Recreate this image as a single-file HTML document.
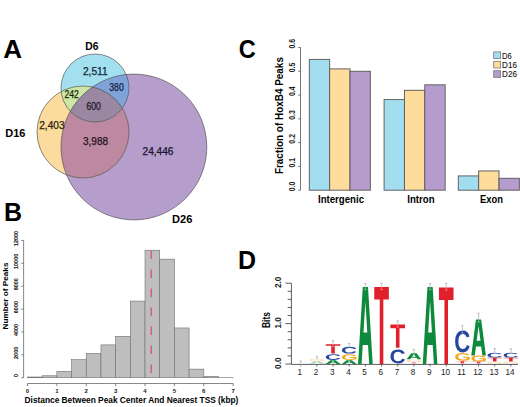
<!DOCTYPE html>
<html><head><meta charset="utf-8"><style>
html,body{margin:0;padding:0;background:#fff;width:520px;height:407px;overflow:hidden}
svg{display:block}
</style></head><body>
<svg width="520" height="407" viewBox="0 0 520 407">
<defs>
<clipPath id="k6"><circle cx="95" cy="88" r="34"/></clipPath>
<clipPath id="k16"><circle cx="83" cy="132" r="46"/></clipPath>
<clipPath id="k26"><circle cx="133.9" cy="147.0" r="72.9"/></clipPath>
</defs>
<circle cx="133.9" cy="147.0" r="72.9" fill="#b59dcc" />
<circle cx="83" cy="132" r="46" fill="#fbdc9e" />
<g clip-path="url(#k26)"><circle cx="83" cy="132" r="46" fill="#bc89a0" /></g>
<circle cx="95" cy="88" r="34" fill="#a3e0ef" />
<g clip-path="url(#k16)"><circle cx="95" cy="88" r="34" fill="#cde6a6" /></g>
<g clip-path="url(#k26)"><circle cx="95" cy="88" r="34" fill="#7fa3d8" /></g>
<g clip-path="url(#k26)"><g clip-path="url(#k16)"><circle cx="95" cy="88" r="34" fill="#9a88a2" /></g></g>
<circle cx="133.9" cy="147.0" r="72.9" fill="none" stroke="#505050" stroke-width="0.9" stroke-opacity="0.75"/>
<circle cx="83" cy="132" r="46" fill="none" stroke="#505050" stroke-width="0.9" stroke-opacity="0.75"/>
<circle cx="95" cy="88" r="34" fill="none" stroke="#505050" stroke-width="0.9" stroke-opacity="0.75"/>
<text x="85.2" y="49.6" text-anchor="start" textLength="13.2" lengthAdjust="spacingAndGlyphs" style="font-family:'Liberation Sans',sans-serif;font-weight:bold;font-size:11px" fill="#000" >D6</text>
<text x="5.3" y="136.7" text-anchor="start" textLength="20.2" lengthAdjust="spacingAndGlyphs" style="font-family:'Liberation Sans',sans-serif;font-weight:bold;font-size:11.2px" fill="#000" >D16</text>
<text x="172.0" y="222.8" text-anchor="start" textLength="20.3" lengthAdjust="spacingAndGlyphs" style="font-family:'Liberation Sans',sans-serif;font-weight:bold;font-size:11.2px" fill="#000" >D26</text>
<text x="82.9" y="74.6" text-anchor="start" textLength="24.8" lengthAdjust="spacingAndGlyphs" style="font-family:'Liberation Sans',sans-serif;font-weight:normal;font-size:10.0px" fill="#10283a" stroke="#10283a" stroke-width="0.25">2,511</text>
<text x="109.3" y="90.9" text-anchor="start" textLength="14.4" lengthAdjust="spacingAndGlyphs" style="font-family:'Liberation Sans',sans-serif;font-weight:normal;font-size:10.0px" fill="#101c3a" stroke="#101c3a" stroke-width="0.25">380</text>
<text x="64.5" y="98.3" text-anchor="start" textLength="14.4" lengthAdjust="spacingAndGlyphs" style="font-family:'Liberation Sans',sans-serif;font-weight:normal;font-size:10.0px" fill="#1a260c" stroke="#1a260c" stroke-width="0.25">242</text>
<text x="86.4" y="110.0" text-anchor="start" textLength="14.4" lengthAdjust="spacingAndGlyphs" style="font-family:'Liberation Sans',sans-serif;font-weight:normal;font-size:10.0px" fill="#1c1426" stroke="#1c1426" stroke-width="0.25">600</text>
<text x="39.2" y="129.3" text-anchor="start" textLength="25.4" lengthAdjust="spacingAndGlyphs" style="font-family:'Liberation Sans',sans-serif;font-weight:normal;font-size:10.0px" fill="#261c0c" stroke="#261c0c" stroke-width="0.25">2,403</text>
<text x="83.0" y="145.0" text-anchor="start" textLength="25.0" lengthAdjust="spacingAndGlyphs" style="font-family:'Liberation Sans',sans-serif;font-weight:normal;font-size:10.0px" fill="#26101c" stroke="#26101c" stroke-width="0.25">3,988</text>
<text x="142.5" y="155.2" text-anchor="start" textLength="31.0" lengthAdjust="spacingAndGlyphs" style="font-family:'Liberation Sans',sans-serif;font-weight:normal;font-size:10.0px" fill="#1a102c" stroke="#1a102c" stroke-width="0.25">24,446</text>
<rect x="27.50" y="377.01" width="14.69" height="0.69" fill="#bebebe" stroke="#6e6e6e" stroke-width="0.6"/>
<rect x="42.19" y="375.76" width="14.69" height="1.94" fill="#bebebe" stroke="#6e6e6e" stroke-width="0.6"/>
<rect x="56.88" y="371.30" width="14.69" height="6.40" fill="#bebebe" stroke="#6e6e6e" stroke-width="0.6"/>
<rect x="71.57" y="359.64" width="14.69" height="18.06" fill="#bebebe" stroke="#6e6e6e" stroke-width="0.6"/>
<rect x="86.26" y="353.46" width="14.69" height="24.24" fill="#bebebe" stroke="#6e6e6e" stroke-width="0.6"/>
<rect x="100.95" y="344.89" width="14.69" height="32.81" fill="#bebebe" stroke="#6e6e6e" stroke-width="0.6"/>
<rect x="115.64" y="336.31" width="14.69" height="41.39" fill="#bebebe" stroke="#6e6e6e" stroke-width="0.6"/>
<rect x="130.33" y="301.10" width="14.69" height="76.60" fill="#bebebe" stroke="#6e6e6e" stroke-width="0.6"/>
<rect x="145.02" y="250.22" width="14.69" height="127.48" fill="#bebebe" stroke="#6e6e6e" stroke-width="0.6"/>
<rect x="159.71" y="259.14" width="14.69" height="118.56" fill="#bebebe" stroke="#6e6e6e" stroke-width="0.6"/>
<rect x="174.40" y="327.96" width="14.69" height="49.74" fill="#bebebe" stroke="#6e6e6e" stroke-width="0.6"/>
<rect x="189.09" y="369.12" width="14.69" height="8.57" fill="#bebebe" stroke="#6e6e6e" stroke-width="0.6"/>
<rect x="203.78" y="376.44" width="14.69" height="1.26" fill="#bebebe" stroke="#6e6e6e" stroke-width="0.6"/>
<rect x="218.47" y="377.59" width="14.69" height="0.11" fill="#bebebe" stroke="#6e6e6e" stroke-width="0.6"/>
<line x1="151.20" y1="250.6" x2="151.20" y2="377.7" stroke="#d9566e" stroke-width="1.3" stroke-dasharray="8.5 10.5"/>
<g stroke="#555" stroke-width="0.7" fill="none">
<line x1="23.6" y1="240.5" x2="23.6" y2="377.7"/>
<line x1="21.2" y1="377.70" x2="23.6" y2="377.70"/>
<line x1="21.2" y1="354.83" x2="23.6" y2="354.83"/>
<line x1="21.2" y1="331.97" x2="23.6" y2="331.97"/>
<line x1="21.2" y1="309.10" x2="23.6" y2="309.10"/>
<line x1="21.2" y1="286.23" x2="23.6" y2="286.23"/>
<line x1="21.2" y1="263.37" x2="23.6" y2="263.37"/>
<line x1="21.2" y1="240.50" x2="23.6" y2="240.50"/>
<line x1="27.5" y1="383.5" x2="233.16" y2="383.5"/>
<line x1="27.50" y1="383.5" x2="27.50" y2="386.2"/>
<line x1="56.88" y1="383.5" x2="56.88" y2="386.2"/>
<line x1="86.26" y1="383.5" x2="86.26" y2="386.2"/>
<line x1="115.64" y1="383.5" x2="115.64" y2="386.2"/>
<line x1="145.02" y1="383.5" x2="145.02" y2="386.2"/>
<line x1="174.40" y1="383.5" x2="174.40" y2="386.2"/>
<line x1="203.78" y1="383.5" x2="203.78" y2="386.2"/>
<line x1="233.16" y1="383.5" x2="233.16" y2="386.2"/>
</g>
<text transform="translate(18.2 375.70) rotate(-90)" text-anchor="middle" style="font-family:'Liberation Sans',sans-serif;font-weight:bold;font-size:6px" fill="#1a1a1a" stroke="#1a1a1a" stroke-width="0.1">0</text>
<text transform="translate(18.2 352.83) rotate(-90)" text-anchor="middle" style="font-family:'Liberation Sans',sans-serif;font-weight:bold;font-size:6px" fill="#1a1a1a" stroke="#1a1a1a" stroke-width="0.1" textLength="12.2" lengthAdjust=spacingAndGlyphs>2000</text>
<text transform="translate(18.2 329.97) rotate(-90)" text-anchor="middle" style="font-family:'Liberation Sans',sans-serif;font-weight:bold;font-size:6px" fill="#1a1a1a" stroke="#1a1a1a" stroke-width="0.1" textLength="12.2" lengthAdjust=spacingAndGlyphs>4000</text>
<text transform="translate(18.2 307.10) rotate(-90)" text-anchor="middle" style="font-family:'Liberation Sans',sans-serif;font-weight:bold;font-size:6px" fill="#1a1a1a" stroke="#1a1a1a" stroke-width="0.1" textLength="12.2" lengthAdjust=spacingAndGlyphs>6000</text>
<text transform="translate(18.2 284.23) rotate(-90)" text-anchor="middle" style="font-family:'Liberation Sans',sans-serif;font-weight:bold;font-size:6px" fill="#1a1a1a" stroke="#1a1a1a" stroke-width="0.1" textLength="12.2" lengthAdjust=spacingAndGlyphs>8000</text>
<text transform="translate(18.2 261.37) rotate(-90)" text-anchor="middle" style="font-family:'Liberation Sans',sans-serif;font-weight:bold;font-size:6px" fill="#1a1a1a" stroke="#1a1a1a" stroke-width="0.1" textLength="15.2" lengthAdjust=spacingAndGlyphs>10000</text>
<text transform="translate(18.2 238.50) rotate(-90)" text-anchor="middle" style="font-family:'Liberation Sans',sans-serif;font-weight:bold;font-size:6px" fill="#1a1a1a" stroke="#1a1a1a" stroke-width="0.1" textLength="15.2" lengthAdjust=spacingAndGlyphs>12000</text>
<text x="27.50" y="392.7" text-anchor="middle" style="font-family:'Liberation Sans',sans-serif;font-weight:bold;font-size:6px" fill="#222" >0</text>
<text x="56.88" y="392.7" text-anchor="middle" style="font-family:'Liberation Sans',sans-serif;font-weight:bold;font-size:6px" fill="#222" >1</text>
<text x="86.26" y="392.7" text-anchor="middle" style="font-family:'Liberation Sans',sans-serif;font-weight:bold;font-size:6px" fill="#222" >2</text>
<text x="115.64" y="392.7" text-anchor="middle" style="font-family:'Liberation Sans',sans-serif;font-weight:bold;font-size:6px" fill="#222" >3</text>
<text x="145.02" y="392.7" text-anchor="middle" style="font-family:'Liberation Sans',sans-serif;font-weight:bold;font-size:6px" fill="#222" >4</text>
<text x="174.40" y="392.7" text-anchor="middle" style="font-family:'Liberation Sans',sans-serif;font-weight:bold;font-size:6px" fill="#222" >5</text>
<text x="203.78" y="392.7" text-anchor="middle" style="font-family:'Liberation Sans',sans-serif;font-weight:bold;font-size:6px" fill="#222" >6</text>
<text x="233.16" y="392.7" text-anchor="middle" style="font-family:'Liberation Sans',sans-serif;font-weight:bold;font-size:6px" fill="#222" >7</text>
<text transform="translate(8.3 296.0) rotate(-90)" text-anchor="middle" textLength="67" lengthAdjust="spacingAndGlyphs" style="font-family:'Liberation Sans',sans-serif;font-weight:bold;font-size:7.8px">Number of Peaks</text>
<text x="24.6" y="403.1" text-anchor="start" textLength="213.8" lengthAdjust="spacingAndGlyphs" style="font-family:'Liberation Sans',sans-serif;font-weight:bold;font-size:8.6px" fill="#000" >Distance Between Peak Center And Nearest TSS (kbp)</text>
<rect x="309.30" y="59.39" width="20.35" height="130.81" fill="#a3def0" stroke="#5c5c5c" stroke-width="0.95"/>
<rect x="329.65" y="68.91" width="20.35" height="121.29" fill="#fddc9c" stroke="#5c5c5c" stroke-width="0.95"/>
<rect x="350.00" y="71.28" width="20.35" height="118.92" fill="#b59ccc" stroke="#5c5c5c" stroke-width="0.95"/>
<rect x="384.10" y="99.59" width="20.35" height="90.61" fill="#a3def0" stroke="#5c5c5c" stroke-width="0.95"/>
<rect x="404.45" y="90.31" width="20.35" height="99.89" fill="#fddc9c" stroke="#5c5c5c" stroke-width="0.95"/>
<rect x="424.80" y="84.84" width="20.35" height="105.36" fill="#b59ccc" stroke="#5c5c5c" stroke-width="0.95"/>
<rect x="458.30" y="175.93" width="20.35" height="14.27" fill="#a3def0" stroke="#5c5c5c" stroke-width="0.95"/>
<rect x="478.65" y="170.94" width="20.35" height="19.26" fill="#fddc9c" stroke="#5c5c5c" stroke-width="0.95"/>
<rect x="499.00" y="178.31" width="20.35" height="11.89" fill="#b59ccc" stroke="#5c5c5c" stroke-width="0.95"/>
<g stroke="#555" stroke-width="0.8" fill="none">
<line x1="300.5" y1="47.5" x2="300.5" y2="190.2"/>
<line x1="298.2" y1="190.20" x2="300.5" y2="190.20"/>
<line x1="298.2" y1="166.42" x2="300.5" y2="166.42"/>
<line x1="298.2" y1="142.63" x2="300.5" y2="142.63"/>
<line x1="298.2" y1="118.85" x2="300.5" y2="118.85"/>
<line x1="298.2" y1="95.07" x2="300.5" y2="95.07"/>
<line x1="298.2" y1="71.28" x2="300.5" y2="71.28"/>
<line x1="298.2" y1="47.50" x2="300.5" y2="47.50"/>
</g>
<text transform="translate(295.4 186.40) rotate(-90)" text-anchor="middle" textLength="9.6" lengthAdjust="spacingAndGlyphs" style="font-family:'Liberation Sans',sans-serif;font-weight:bold;font-size:8.2px" fill="#1a1a1a">0.0</text>
<text transform="translate(295.4 162.62) rotate(-90)" text-anchor="middle" textLength="9.6" lengthAdjust="spacingAndGlyphs" style="font-family:'Liberation Sans',sans-serif;font-weight:bold;font-size:8.2px" fill="#1a1a1a">0.1</text>
<text transform="translate(295.4 138.83) rotate(-90)" text-anchor="middle" textLength="9.6" lengthAdjust="spacingAndGlyphs" style="font-family:'Liberation Sans',sans-serif;font-weight:bold;font-size:8.2px" fill="#1a1a1a">0.2</text>
<text transform="translate(295.4 115.05) rotate(-90)" text-anchor="middle" textLength="9.6" lengthAdjust="spacingAndGlyphs" style="font-family:'Liberation Sans',sans-serif;font-weight:bold;font-size:8.2px" fill="#1a1a1a">0.3</text>
<text transform="translate(295.4 91.27) rotate(-90)" text-anchor="middle" textLength="9.6" lengthAdjust="spacingAndGlyphs" style="font-family:'Liberation Sans',sans-serif;font-weight:bold;font-size:8.2px" fill="#1a1a1a">0.4</text>
<text transform="translate(295.4 67.48) rotate(-90)" text-anchor="middle" textLength="9.6" lengthAdjust="spacingAndGlyphs" style="font-family:'Liberation Sans',sans-serif;font-weight:bold;font-size:8.2px" fill="#1a1a1a">0.5</text>
<text transform="translate(295.4 43.70) rotate(-90)" text-anchor="middle" textLength="9.6" lengthAdjust="spacingAndGlyphs" style="font-family:'Liberation Sans',sans-serif;font-weight:bold;font-size:8.2px" fill="#1a1a1a">0.6</text>
<text transform="translate(283.4 115.6) rotate(-90)" text-anchor="middle" textLength="117" lengthAdjust="spacingAndGlyphs" style="font-family:'Liberation Sans',sans-serif;font-weight:bold;font-size:10px">Fraction of HoxB4 Peaks</text>
<text x="341.0" y="202.6" text-anchor="middle" textLength="46" lengthAdjust="spacingAndGlyphs" style="font-family:'Liberation Sans',sans-serif;font-weight:bold;font-size:10px" fill="#000" >Intergenic</text>
<text x="420.9" y="202.6" text-anchor="middle" textLength="27.4" lengthAdjust="spacingAndGlyphs" style="font-family:'Liberation Sans',sans-serif;font-weight:bold;font-size:10px" fill="#000" >Intron</text>
<text x="491.4" y="202.6" text-anchor="middle" textLength="23" lengthAdjust="spacingAndGlyphs" style="font-family:'Liberation Sans',sans-serif;font-weight:bold;font-size:10px" fill="#000" >Exon</text>
<rect x="493.7" y="51.9" width="6.9" height="6.7" fill="#a3def0" stroke="#7a7a7a" stroke-width="0.8"/>
<text x="502.1" y="58.5" text-anchor="start" textLength="9.6" lengthAdjust="spacingAndGlyphs" style="font-family:'Liberation Sans',sans-serif;font-weight:normal;font-size:8.6px" fill="#111" stroke="#111" stroke-width="0.1">D6</text>
<rect x="493.7" y="61.300000000000004" width="6.9" height="6.7" fill="#fddc9c" stroke="#7a7a7a" stroke-width="0.8"/>
<text x="502.1" y="67.9" text-anchor="start" textLength="14.8" lengthAdjust="spacingAndGlyphs" style="font-family:'Liberation Sans',sans-serif;font-weight:normal;font-size:8.6px" fill="#111" stroke="#111" stroke-width="0.1">D16</text>
<rect x="493.7" y="70.69999999999999" width="6.9" height="6.7" fill="#b59ccc" stroke="#7a7a7a" stroke-width="0.8"/>
<text x="502.1" y="77.3" text-anchor="start" textLength="14.8" lengthAdjust="spacingAndGlyphs" style="font-family:'Liberation Sans',sans-serif;font-weight:normal;font-size:8.6px" fill="#111" stroke="#111" stroke-width="0.1">D26</text>
<g stroke="#333" stroke-width="0.8" fill="none">
<line x1="291.4" y1="283.2" x2="291.4" y2="364.0"/>
<line x1="285.4" y1="364.00" x2="291.4" y2="364.00"/>
<line x1="287.6" y1="355.92" x2="291.4" y2="355.92"/>
<line x1="287.6" y1="347.84" x2="291.4" y2="347.84"/>
<line x1="287.6" y1="339.76" x2="291.4" y2="339.76"/>
<line x1="287.6" y1="331.68" x2="291.4" y2="331.68"/>
<line x1="285.4" y1="323.60" x2="291.4" y2="323.60"/>
<line x1="287.6" y1="315.52" x2="291.4" y2="315.52"/>
<line x1="287.6" y1="307.44" x2="291.4" y2="307.44"/>
<line x1="287.6" y1="299.36" x2="291.4" y2="299.36"/>
<line x1="287.6" y1="291.28" x2="291.4" y2="291.28"/>
<line x1="285.4" y1="283.20" x2="291.4" y2="283.20"/>
<line x1="291.4" y1="364.4" x2="518" y2="364.4"/>
</g>
<text transform="translate(280.6 363.20) rotate(-90)" text-anchor="middle" textLength="11.4" lengthAdjust="spacingAndGlyphs" style="font-family:'Liberation Sans',sans-serif;font-weight:bold;font-size:9.4px" fill="#222">0.0</text>
<text transform="translate(280.6 322.80) rotate(-90)" text-anchor="middle" textLength="11.4" lengthAdjust="spacingAndGlyphs" style="font-family:'Liberation Sans',sans-serif;font-weight:bold;font-size:9.4px" fill="#222">1.0</text>
<text transform="translate(280.6 282.40) rotate(-90)" text-anchor="middle" textLength="11.4" lengthAdjust="spacingAndGlyphs" style="font-family:'Liberation Sans',sans-serif;font-weight:bold;font-size:9.4px" fill="#222">2.0</text>
<text transform="translate(270.0 320.0) rotate(-90)" text-anchor="middle" textLength="16" lengthAdjust="spacingAndGlyphs" style="font-family:'Liberation Sans',sans-serif;font-weight:bold;font-size:10.4px">Bits</text>
<line x1="300.70" y1="364.4" x2="300.70" y2="366.6" stroke="#333" stroke-width="0.7"/>
<text x="299.90" y="375.3" text-anchor="middle" style="font-family:'Liberation Sans',sans-serif;font-weight:normal;font-size:8.2px" fill="#222" >1</text>
<line x1="316.87" y1="364.4" x2="316.87" y2="366.6" stroke="#333" stroke-width="0.7"/>
<text x="316.07" y="375.3" text-anchor="middle" style="font-family:'Liberation Sans',sans-serif;font-weight:normal;font-size:8.2px" fill="#222" >2</text>
<line x1="333.04" y1="364.4" x2="333.04" y2="366.6" stroke="#333" stroke-width="0.7"/>
<text x="332.24" y="375.3" text-anchor="middle" style="font-family:'Liberation Sans',sans-serif;font-weight:normal;font-size:8.2px" fill="#222" >3</text>
<line x1="349.21" y1="364.4" x2="349.21" y2="366.6" stroke="#333" stroke-width="0.7"/>
<text x="348.41" y="375.3" text-anchor="middle" style="font-family:'Liberation Sans',sans-serif;font-weight:normal;font-size:8.2px" fill="#222" >4</text>
<line x1="365.38" y1="364.4" x2="365.38" y2="366.6" stroke="#333" stroke-width="0.7"/>
<text x="364.58" y="375.3" text-anchor="middle" style="font-family:'Liberation Sans',sans-serif;font-weight:normal;font-size:8.2px" fill="#222" >5</text>
<line x1="381.55" y1="364.4" x2="381.55" y2="366.6" stroke="#333" stroke-width="0.7"/>
<text x="380.75" y="375.3" text-anchor="middle" style="font-family:'Liberation Sans',sans-serif;font-weight:normal;font-size:8.2px" fill="#222" >6</text>
<line x1="397.72" y1="364.4" x2="397.72" y2="366.6" stroke="#333" stroke-width="0.7"/>
<text x="396.92" y="375.3" text-anchor="middle" style="font-family:'Liberation Sans',sans-serif;font-weight:normal;font-size:8.2px" fill="#222" >7</text>
<line x1="413.89" y1="364.4" x2="413.89" y2="366.6" stroke="#333" stroke-width="0.7"/>
<text x="413.09" y="375.3" text-anchor="middle" style="font-family:'Liberation Sans',sans-serif;font-weight:normal;font-size:8.2px" fill="#222" >8</text>
<line x1="430.06" y1="364.4" x2="430.06" y2="366.6" stroke="#333" stroke-width="0.7"/>
<text x="429.26" y="375.3" text-anchor="middle" style="font-family:'Liberation Sans',sans-serif;font-weight:normal;font-size:8.2px" fill="#222" >9</text>
<line x1="446.23" y1="364.4" x2="446.23" y2="366.6" stroke="#333" stroke-width="0.7"/>
<text x="445.43" y="375.3" text-anchor="middle" style="font-family:'Liberation Sans',sans-serif;font-weight:normal;font-size:8.2px" fill="#222" >10</text>
<line x1="462.40" y1="364.4" x2="462.40" y2="366.6" stroke="#333" stroke-width="0.7"/>
<text x="461.60" y="375.3" text-anchor="middle" style="font-family:'Liberation Sans',sans-serif;font-weight:normal;font-size:8.2px" fill="#222" >11</text>
<line x1="478.57" y1="364.4" x2="478.57" y2="366.6" stroke="#333" stroke-width="0.7"/>
<text x="477.77" y="375.3" text-anchor="middle" style="font-family:'Liberation Sans',sans-serif;font-weight:normal;font-size:8.2px" fill="#222" >12</text>
<line x1="494.74" y1="364.4" x2="494.74" y2="366.6" stroke="#333" stroke-width="0.7"/>
<text x="493.94" y="375.3" text-anchor="middle" style="font-family:'Liberation Sans',sans-serif;font-weight:normal;font-size:8.2px" fill="#222" >13</text>
<line x1="510.91" y1="364.4" x2="510.91" y2="366.6" stroke="#333" stroke-width="0.7"/>
<text x="510.11" y="375.3" text-anchor="middle" style="font-family:'Liberation Sans',sans-serif;font-weight:normal;font-size:8.2px" fill="#222" >14</text>
<path opacity="0.35" fill="#f2a81d" transform="matrix(0.01056 0 0 -0.00179 308.683 361.164)" d="M806 211Q921 211 1029.0 244.5Q1137 278 1196 330V525H852V743H1466V225Q1354 110 1174.5 45.0Q995 -20 798 -20Q454 -20 269.0 170.5Q84 361 84 711Q84 1059 270.0 1244.5Q456 1430 805 1430Q1301 1430 1436 1063L1164 981Q1120 1088 1026.0 1143.0Q932 1198 805 1198Q597 1198 489.0 1072.0Q381 946 381 711Q381 472 492.5 341.5Q604 211 806 211Z"/>
<path opacity="0.35" fill="#0f8a3c" transform="matrix(0.01063 0 0 -0.00163 309.570 363.600)" d="M0 0 L440 1409 L934 1409 L1374 0 L1044 0 L934.7 350 L439.3 350 L330 0 Z M509.6 575 L864.4 575 L687.0 1143.2 Z"/>
<path fill="#e0202a" transform="matrix(0.01211 0 0 -0.00667 325.462 353.600)" d="M773 1181V0H478V1181H23V1409H1229V1181Z"/>
<path fill="#2546a0" transform="matrix(0.01090 0 0 -0.00393 324.824 359.821)" d="M795 212Q1062 212 1166 480L1423 383Q1340 179 1179.5 79.5Q1019 -20 795 -20Q455 -20 269.5 172.5Q84 365 84 711Q84 1058 263.0 1244.0Q442 1430 782 1430Q1030 1430 1186.0 1330.5Q1342 1231 1405 1038L1145 967Q1112 1073 1015.5 1135.5Q919 1198 788 1198Q588 1198 484.5 1074.0Q381 950 381 711Q381 468 487.5 340.0Q594 212 795 212Z"/>
<path fill="#0f8a3c" transform="matrix(0.01063 0 0 -0.00263 325.740 364.000)" d="M0 0 L440 1409 L934 1409 L1374 0 L1044 0 L934.7 350 L439.3 350 L330 0 Z M509.6 575 L864.4 575 L687.0 1143.2 Z"/>
<path fill="#2546a0" transform="matrix(0.01090 0 0 -0.00469 340.994 353.506)" d="M795 212Q1062 212 1166 480L1423 383Q1340 179 1179.5 79.5Q1019 -20 795 -20Q455 -20 269.5 172.5Q84 365 84 711Q84 1058 263.0 1244.0Q442 1430 782 1430Q1030 1430 1186.0 1330.5Q1342 1231 1405 1038L1145 967Q1112 1073 1015.5 1135.5Q919 1198 788 1198Q588 1198 484.5 1074.0Q381 950 381 711Q381 468 487.5 340.0Q594 212 795 212Z"/>
<path fill="#f2a81d" transform="matrix(0.01056 0 0 -0.00407 341.023 360.019)" d="M806 211Q921 211 1029.0 244.5Q1137 278 1196 330V525H852V743H1466V225Q1354 110 1174.5 45.0Q995 -20 798 -20Q454 -20 269.0 170.5Q84 361 84 711Q84 1059 270.0 1244.5Q456 1430 805 1430Q1301 1430 1436 1063L1164 981Q1120 1088 1026.0 1143.0Q932 1198 805 1198Q597 1198 489.0 1072.0Q381 946 381 711Q381 472 492.5 341.5Q604 211 806 211Z"/>
<path fill="#0f8a3c" transform="matrix(0.01063 0 0 -0.00263 341.910 364.000)" d="M0 0 L440 1409 L934 1409 L1374 0 L1044 0 L934.7 350 L439.3 350 L330 0 Z M509.6 575 L864.4 575 L687.0 1143.2 Z"/>
<path fill="#0f8a3c" transform="matrix(0.01063 0 0 -0.05458 358.080 364.000)" d="M0 0 L440 1409 L934 1409 L1374 0 L1044 0 L934.7 350 L439.3 350 L330 0 Z M509.6 575 L864.4 575 L687.0 1143.2 Z"/>
<path fill="#e0202a" transform="matrix(0.01211 0 0 -0.05458 373.972 364.000)" d="M773 1181V0H478V1181H23V1409H1229V1181Z"/>
<path fill="#e0202a" transform="matrix(0.01211 0 0 -0.01647 390.142 347.800)" d="M773 1181V0H478V1181H23V1409H1229V1181Z"/>
<path fill="#2546a0" transform="matrix(0.01090 0 0 -0.00952 389.504 363.210)" d="M795 212Q1062 212 1166 480L1423 383Q1340 179 1179.5 79.5Q1019 -20 795 -20Q455 -20 269.5 172.5Q84 365 84 711Q84 1058 263.0 1244.0Q442 1430 782 1430Q1030 1430 1186.0 1330.5Q1342 1231 1405 1038L1145 967Q1112 1073 1015.5 1135.5Q919 1198 788 1198Q588 1198 484.5 1074.0Q381 950 381 711Q381 468 487.5 340.0Q594 212 795 212Z"/>
<path fill="#0f8a3c" transform="matrix(0.01063 0 0 -0.00419 406.590 359.200)" d="M0 0 L440 1409 L934 1409 L1374 0 L1044 0 L934.7 350 L439.3 350 L330 0 Z M509.6 575 L864.4 575 L687.0 1143.2 Z"/>
<path opacity="0.4" fill="#f2a81d" transform="matrix(0.01056 0 0 -0.00152 405.703 361.570)" d="M806 211Q921 211 1029.0 244.5Q1137 278 1196 330V525H852V743H1466V225Q1354 110 1174.5 45.0Q995 -20 798 -20Q454 -20 269.0 170.5Q84 361 84 711Q84 1059 270.0 1244.5Q456 1430 805 1430Q1301 1430 1436 1063L1164 981Q1120 1088 1026.0 1143.0Q932 1198 805 1198Q597 1198 489.0 1072.0Q381 946 381 711Q381 472 492.5 341.5Q604 211 806 211Z"/>
<path opacity="0.4" fill="#e0202a" transform="matrix(0.01211 0 0 -0.00149 406.312 363.800)" d="M773 1181V0H478V1181H23V1409H1229V1181Z"/>
<path fill="#0f8a3c" transform="matrix(0.01063 0 0 -0.05458 422.760 364.000)" d="M0 0 L440 1409 L934 1409 L1374 0 L1044 0 L934.7 350 L439.3 350 L330 0 Z M509.6 575 L864.4 575 L687.0 1143.2 Z"/>
<path fill="#e0202a" transform="matrix(0.01211 0 0 -0.05422 438.652 364.000)" d="M773 1181V0H478V1181H23V1409H1229V1181Z"/>
<path fill="#2546a0" transform="matrix(0.01090 0 0 -0.01503 454.184 352.099)" d="M795 212Q1062 212 1166 480L1423 383Q1340 179 1179.5 79.5Q1019 -20 795 -20Q455 -20 269.5 172.5Q84 365 84 711Q84 1058 263.0 1244.0Q442 1430 782 1430Q1030 1430 1186.0 1330.5Q1342 1231 1405 1038L1145 967Q1112 1073 1015.5 1135.5Q919 1198 788 1198Q588 1198 484.5 1074.0Q381 950 381 711Q381 468 487.5 340.0Q594 212 795 212Z"/>
<path fill="#f2a81d" transform="matrix(0.01056 0 0 -0.00545 454.213 360.691)" d="M806 211Q921 211 1029.0 244.5Q1137 278 1196 330V525H852V743H1466V225Q1354 110 1174.5 45.0Q995 -20 798 -20Q454 -20 269.0 170.5Q84 361 84 711Q84 1059 270.0 1244.5Q456 1430 805 1430Q1301 1430 1436 1063L1164 981Q1120 1088 1026.0 1143.0Q932 1198 805 1198Q597 1198 489.0 1072.0Q381 946 381 711Q381 472 492.5 341.5Q604 211 806 211Z"/>
<path opacity="0.8" fill="#e0202a" transform="matrix(0.01211 0 0 -0.00177 454.822 363.400)" d="M773 1181V0H478V1181H23V1409H1229V1181Z"/>
<path fill="#0f8a3c" transform="matrix(0.01063 0 0 -0.02541 471.270 355.400)" d="M0 0 L440 1409 L934 1409 L1374 0 L1044 0 L934.7 350 L439.3 350 L330 0 Z M509.6 575 L864.4 575 L687.0 1143.2 Z"/>
<path fill="#f2a81d" transform="matrix(0.01056 0 0 -0.00400 470.383 361.320)" d="M806 211Q921 211 1029.0 244.5Q1137 278 1196 330V525H852V743H1466V225Q1354 110 1174.5 45.0Q995 -20 798 -20Q454 -20 269.0 170.5Q84 361 84 711Q84 1059 270.0 1244.5Q456 1430 805 1430Q1301 1430 1436 1063L1164 981Q1120 1088 1026.0 1143.0Q932 1198 805 1198Q597 1198 489.0 1072.0Q381 946 381 711Q381 472 492.5 341.5Q604 211 806 211Z"/>
<path opacity="0.8" fill="#e0202a" transform="matrix(0.01211 0 0 -0.00149 470.992 363.600)" d="M773 1181V0H478V1181H23V1409H1229V1181Z"/>
<path fill="#2546a0" transform="matrix(0.01090 0 0 -0.00331 486.524 357.534)" d="M795 212Q1062 212 1166 480L1423 383Q1340 179 1179.5 79.5Q1019 -20 795 -20Q455 -20 269.5 172.5Q84 365 84 711Q84 1058 263.0 1244.0Q442 1430 782 1430Q1030 1430 1186.0 1330.5Q1342 1231 1405 1038L1145 967Q1112 1073 1015.5 1135.5Q919 1198 788 1198Q588 1198 484.5 1074.0Q381 950 381 711Q381 468 487.5 340.0Q594 212 795 212Z"/>
<path fill="#e0202a" transform="matrix(0.01211 0 0 -0.00263 487.162 361.400)" d="M773 1181V0H478V1181H23V1409H1229V1181Z"/>
<path opacity="0.4" fill="#f2a81d" transform="matrix(0.01056 0 0 -0.00138 486.553 363.572)" d="M806 211Q921 211 1029.0 244.5Q1137 278 1196 330V525H852V743H1466V225Q1354 110 1174.5 45.0Q995 -20 798 -20Q454 -20 269.0 170.5Q84 361 84 711Q84 1059 270.0 1244.5Q456 1430 805 1430Q1301 1430 1436 1063L1164 981Q1120 1088 1026.0 1143.0Q932 1198 805 1198Q597 1198 489.0 1072.0Q381 946 381 711Q381 472 492.5 341.5Q604 211 806 211Z"/>
<path fill="#2546a0" transform="matrix(0.01090 0 0 -0.00331 502.694 357.534)" d="M795 212Q1062 212 1166 480L1423 383Q1340 179 1179.5 79.5Q1019 -20 795 -20Q455 -20 269.5 172.5Q84 365 84 711Q84 1058 263.0 1244.0Q442 1430 782 1430Q1030 1430 1186.0 1330.5Q1342 1231 1405 1038L1145 967Q1112 1073 1015.5 1135.5Q919 1198 788 1198Q588 1198 484.5 1074.0Q381 950 381 711Q381 468 487.5 340.0Q594 212 795 212Z"/>
<path fill="#e0202a" transform="matrix(0.01211 0 0 -0.00263 503.332 361.400)" d="M773 1181V0H478V1181H23V1409H1229V1181Z"/>
<path opacity="0.4" fill="#f2a81d" transform="matrix(0.01056 0 0 -0.00138 502.723 363.572)" d="M806 211Q921 211 1029.0 244.5Q1137 278 1196 330V525H852V743H1466V225Q1354 110 1174.5 45.0Q995 -20 798 -20Q454 -20 269.0 170.5Q84 361 84 711Q84 1059 270.0 1244.5Q456 1430 805 1430Q1301 1430 1436 1063L1164 981Q1120 1088 1026.0 1143.0Q932 1198 805 1198Q597 1198 489.0 1072.0Q381 946 381 711Q381 472 492.5 341.5Q604 211 806 211Z"/>
<g stroke="#9a9a9a" stroke-width="0.6" fill="none">
<line x1="300.70" y1="361.0" x2="300.70" y2="363.5"/>
<line x1="299.50" y1="361.0" x2="301.90" y2="361.0"/>
<line x1="300.70" y1="363.5" x2="300.70" y2="366.0" stroke="#fff" stroke-opacity="0.6"/>
<line x1="299.50" y1="366.0" x2="301.90" y2="366.0" stroke="#fff" stroke-opacity="0.6"/>
<line x1="316.87" y1="356.4" x2="316.87" y2="359.6"/>
<line x1="315.67" y1="356.4" x2="318.07" y2="356.4"/>
<line x1="316.87" y1="359.6" x2="316.87" y2="362.1" stroke="#fff" stroke-opacity="0.6"/>
<line x1="315.67" y1="362.1" x2="318.07" y2="362.1" stroke="#fff" stroke-opacity="0.6"/>
<line x1="333.04" y1="340.6" x2="333.04" y2="344.2"/>
<line x1="331.84" y1="340.6" x2="334.24" y2="340.6"/>
<line x1="333.04" y1="344.2" x2="333.04" y2="346.7" stroke="#fff" stroke-opacity="0.6"/>
<line x1="331.84" y1="346.7" x2="334.24" y2="346.7" stroke="#fff" stroke-opacity="0.6"/>
<line x1="349.21" y1="343.4" x2="349.21" y2="346.8"/>
<line x1="348.01" y1="343.4" x2="350.41" y2="343.4"/>
<line x1="349.21" y1="346.8" x2="349.21" y2="349.3" stroke="#fff" stroke-opacity="0.6"/>
<line x1="348.01" y1="349.3" x2="350.41" y2="349.3" stroke="#fff" stroke-opacity="0.6"/>
<line x1="365.38" y1="283.4" x2="365.38" y2="287.1"/>
<line x1="364.18" y1="283.4" x2="366.58" y2="283.4"/>
<line x1="365.38" y1="287.1" x2="365.38" y2="289.6" stroke="#fff" stroke-opacity="0.6"/>
<line x1="364.18" y1="289.6" x2="366.58" y2="289.6" stroke="#fff" stroke-opacity="0.6"/>
<line x1="381.55" y1="283.4" x2="381.55" y2="287.1"/>
<line x1="380.35" y1="283.4" x2="382.75" y2="283.4"/>
<line x1="381.55" y1="287.1" x2="381.55" y2="289.6" stroke="#fff" stroke-opacity="0.6"/>
<line x1="380.35" y1="289.6" x2="382.75" y2="289.6" stroke="#fff" stroke-opacity="0.6"/>
<line x1="397.72" y1="320.8" x2="397.72" y2="324.6"/>
<line x1="396.52" y1="320.8" x2="398.92" y2="320.8"/>
<line x1="397.72" y1="324.6" x2="397.72" y2="327.1" stroke="#fff" stroke-opacity="0.6"/>
<line x1="396.52" y1="327.1" x2="398.92" y2="327.1" stroke="#fff" stroke-opacity="0.6"/>
<line x1="413.89" y1="349.4" x2="413.89" y2="353.3"/>
<line x1="412.69" y1="349.4" x2="415.09" y2="349.4"/>
<line x1="413.89" y1="353.3" x2="413.89" y2="355.8" stroke="#fff" stroke-opacity="0.6"/>
<line x1="412.69" y1="355.8" x2="415.09" y2="355.8" stroke="#fff" stroke-opacity="0.6"/>
<line x1="430.06" y1="283.4" x2="430.06" y2="287.1"/>
<line x1="428.86" y1="283.4" x2="431.26" y2="283.4"/>
<line x1="430.06" y1="287.1" x2="430.06" y2="289.6" stroke="#fff" stroke-opacity="0.6"/>
<line x1="428.86" y1="289.6" x2="431.26" y2="289.6" stroke="#fff" stroke-opacity="0.6"/>
<line x1="446.23" y1="283.4" x2="446.23" y2="287.6"/>
<line x1="445.03" y1="283.4" x2="447.43" y2="283.4"/>
<line x1="446.23" y1="287.6" x2="446.23" y2="290.1" stroke="#fff" stroke-opacity="0.6"/>
<line x1="445.03" y1="290.1" x2="447.43" y2="290.1" stroke="#fff" stroke-opacity="0.6"/>
<line x1="462.40" y1="325.6" x2="462.40" y2="330.6"/>
<line x1="461.20" y1="325.6" x2="463.60" y2="325.6"/>
<line x1="462.40" y1="330.6" x2="462.40" y2="333.1" stroke="#fff" stroke-opacity="0.6"/>
<line x1="461.20" y1="333.1" x2="463.60" y2="333.1" stroke="#fff" stroke-opacity="0.6"/>
<line x1="478.57" y1="313.2" x2="478.57" y2="319.6"/>
<line x1="477.37" y1="313.2" x2="479.77" y2="313.2"/>
<line x1="478.57" y1="319.6" x2="478.57" y2="322.1" stroke="#fff" stroke-opacity="0.6"/>
<line x1="477.37" y1="322.1" x2="479.77" y2="322.1" stroke="#fff" stroke-opacity="0.6"/>
<line x1="494.74" y1="348.6" x2="494.74" y2="352.6"/>
<line x1="493.54" y1="348.6" x2="495.94" y2="348.6"/>
<line x1="494.74" y1="352.6" x2="494.74" y2="355.1" stroke="#fff" stroke-opacity="0.6"/>
<line x1="493.54" y1="355.1" x2="495.94" y2="355.1" stroke="#fff" stroke-opacity="0.6"/>
<line x1="510.91" y1="348.8" x2="510.91" y2="352.8"/>
<line x1="509.71" y1="348.8" x2="512.11" y2="348.8"/>
<line x1="510.91" y1="352.8" x2="510.91" y2="355.3" stroke="#fff" stroke-opacity="0.6"/>
<line x1="509.71" y1="355.3" x2="512.11" y2="355.3" stroke="#fff" stroke-opacity="0.6"/>
</g>
<text x="3.2" y="58.2" style="font-family:'Liberation Sans',sans-serif;font-weight:bold;font-size:26px">A</text>
<text x="3.9" y="221.0" style="font-family:'Liberation Sans',sans-serif;font-weight:bold;font-size:25px">B</text>
<text x="238.7" y="57.8" textLength="17.0" lengthAdjust="spacingAndGlyphs" style="font-family:'Liberation Sans',sans-serif;font-weight:bold;font-size:26px">C</text>
<text x="238.0" y="269.0" style="font-family:'Liberation Sans',sans-serif;font-weight:bold;font-size:25px">D</text>
</svg>
</body></html>
